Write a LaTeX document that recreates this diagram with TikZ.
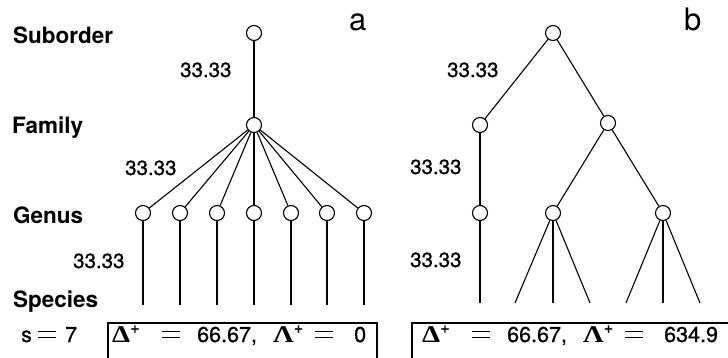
\documentclass[tikz,border=0pt]{standalone}
\usepackage[no-math]{fontspec}
\setmainfont{TeX Gyre Heros}
\newfontfamily\semibold{TeX Gyre Heros}[FakeBold=0.9]
\newfontfamily\greekserif{Liberation Serif}
% bold serif capital with a plus as superscript
\newcommand{\grplus}[1]{{\fontsize{24}{26}\selectfont\greekserif\bfseries\scalebox{1.2}[1]{#1}}\raisebox{0.42em}{\fontsize{16}{18}\selectfont +}}
% long equals sign built from two bars
\newcommand{\wideeq}{\makebox[18pt][l]{\rule[4.3pt]{18pt}{1.2pt}\hspace{-18pt}\rule[10pt]{18pt}{1.2pt}}}
\begin{document}
\begin{tikzpicture}[x=1pt,y=-1pt,
  vertex/.style={circle,draw,fill=white,minimum size=15pt,inner sep=0pt,line width=1.1pt},
  branch/.style={line width=1.1pt},
  rank/.style={anchor=base west,inner sep=0pt,font=\fontsize{22.5}{26}\selectfont\bfseries},
  dist/.style={anchor=base west,inner sep=0pt,font=\fontsize{20.5}{24}\selectfont\semibold},
  panel/.style={anchor=base west,inner sep=0pt,font=\fontsize{31}{34}\selectfont},
  result/.style={anchor=base west,inner sep=0pt,font=\fontsize{21.5}{24}\selectfont\semibold},
  resultbox/.style={draw,line width=1.1pt}]
\useasboundingbox (0,0) rectangle (728,357);
\clip (0,0) rectangle (728,357);

% rank labels
\node[rank] (lsub) at (13,43) {Suborder};
\node[rank] (lfam) at (12,133) {Family};
\node[rank] (lgen) at (13,223) {Genus};
\node[rank] (lspe) at (13,307) {Species};

% panel letters
\node[panel] (pa) at (349,30) {a};
\node[panel] (pb) at (684,30) {b};

% ---- tree a: one family with seven genera ----
\node[vertex] (aS) at (254,33) {};
\node[vertex] (aF) at (254,125) {};
\foreach \i/\x in {1/143,2/180,3/217,4/254,5/291,6/327,7/364}{
  \node[vertex] (aG\i) at (\x,213) {};
  \coordinate (aP\i) at (\x,305);
}
\draw[branch] (aS) -- (aF);
\foreach \i in {1,...,7}{
  \draw[branch] (aF) -- (aG\i);
  \draw[branch] (aG\i) -- (aP\i);
}

\node[dist] (da1) at (180,77) {33.33};
\node[dist] (da2) at (125,175) {33.33};
\node[dist] (da3) at (73,268) {33.33};

% ---- tree b: two families, three genera ----
\node[vertex] (bS) at (553,33) {};
\node[vertex] (bF1) at (480,125) {};
\node[vertex] (bF2) at (608,123) {};
\node[vertex] (bG1) at (480,213) {};
\node[vertex] (bG2) at (553,213) {};
\node[vertex] (bG3) at (663,213) {};
\coordinate (bP1) at (480,303);
\coordinate (bP2) at (515,303);
\coordinate (bP3) at (553,303);
\coordinate (bP4) at (590,303);
\coordinate (bP5) at (626,303);
\coordinate (bP6) at (663,303);
\coordinate (bP7) at (700,303);
\draw[branch] (bS) -- (bF1);
\draw[branch] (bS) -- (bF2);
\draw[branch] (bF1) -- (bG1);
\draw[branch] (bF2) -- (bG2);
\draw[branch] (bF2) -- (bG3);
\draw[branch] (bG1) -- (bP1);
\draw[branch] (bG2) -- (bP2);
\draw[branch] (bG2) -- (bP3);
\draw[branch] (bG2) -- (bP4);
\draw[branch] (bG3) -- (bP5);
\draw[branch] (bG3) -- (bP6);
\draw[branch] (bG3) -- (bP7);

\node[dist] (db1) at (447,77) {33.33};
\node[dist] (db2) at (410,174) {33.33};
\node[dist] (db3) at (410,267) {33.33};

% ---- results ----
\node[result] (ns) at (21,342) {\makebox[17pt][l]{s}\makebox[27pt][l]{\wideeq}7};
\draw[resultbox] (108,323) rectangle (377,370);
\draw[resultbox] (412,323) rectangle (740,370);
\node[result] (ra) at (112,342) {\makebox[50pt][l]{\grplus{Δ}}\makebox[35pt][l]{\wideeq}\makebox[76pt][l]{66.67,}\makebox[42pt][l]{\grplus{Λ}}\makebox[39pt][l]{\wideeq}0};
\node[result] (rb) at (422,342) {\makebox[50pt][l]{\grplus{Δ}}\makebox[35pt][l]{\wideeq}\makebox[76pt][l]{66.67,}\makebox[42pt][l]{\grplus{Λ}}\makebox[39pt][l]{\wideeq}634.9};
\end{tikzpicture}
\end{document}
